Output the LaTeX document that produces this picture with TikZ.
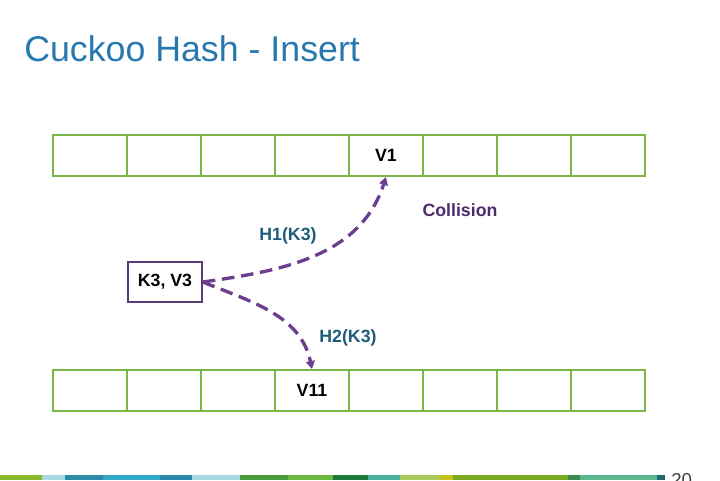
\documentclass[tikz,border=0pt]{standalone}
\usepackage{fontspec}
\setmainfont{Liberation Sans}
\usepackage{xcolor}
\usetikzlibrary{arrows.meta,positioning}

\definecolor{titleblue}{HTML}{2878B0}
\definecolor{slotgreen}{HTML}{7AB648}
\definecolor{probepurple}{HTML}{6B3E8E}
\definecolor{keypurple}{HTML}{5C3B7A}
\definecolor{hashblue}{HTML}{1F5C7A}
\definecolor{collpurple}{HTML}{4E2A6E}

\begin{document}
\begin{tikzpicture}[x=0.75pt, y=-0.75pt,
  cell/.style={draw=slotgreen, line width=1.5pt, minimum width=55.5pt,
    minimum height=30.75pt, inner sep=0pt},
  valtext/.style={font=\bfseries\fontsize{13.3}{16}\selectfont},
  keybox/.style={draw=keypurple, line width=1.1pt, minimum width=55.5pt,
    minimum height=30pt, inner sep=0pt, font=\bfseries\fontsize{13.3}{16}\selectfont},
  hashlabel/.style={text=hashblue, font=\bfseries\fontsize{13.3}{16}\selectfont},
  probe/.style={-{Triangle[length=6pt,width=6.5pt]}, draw=probepurple,
    line width=2.5pt, dash pattern=on 9.5pt off 5pt}
]
\useasboundingbox (0,0) rectangle (720,480);

\node[anchor=base west, text=titleblue, inner sep=0pt,
  font=\fontsize{26.8}{32}\selectfont] (title) at (24,61) {Cuckoo Hash - Insert};

% two tables of eight slots
\foreach \i in {1,...,8} {
  \node[cell] (top\i) at ({16+74*\i},155.5) {};
  \node[cell] (bot\i) at ({16+74*\i},390.5) {};
}
\node[valtext] (v1) at (top5.center) {V1};
\node[valtext] (v11) at (bot4.center) {V11};

\node[keybox] (key) at (165,282) {K3, V3};

\node[hashlabel] (h1) at (288,236) {H1(K3)};
\node[hashlabel] (h2) at (348,338) {H2(K3)};
\node[text=collpurple, font=\bfseries\fontsize{13.3}{16}\selectfont] (coll) at (460,210) {Collision};

\draw[probe] (key.east) to[out=8, in=-108] (top5.south);
\draw[probe] (key.east) to[out=-22, in=102] (bot4.north);

% colour strip at the foot
\foreach \a/\b/\c in {0/42/8AB82A, 42/65/A8D8E0, 65/103/2A8CA8, 103/160/34A8C8,
  160/192/2A88A8, 192/240/A8D8E0, 240/288/4A9A3A, 288/333/6AB840,
  333/368/1E7A3A, 368/400/48B0A0, 400/440/A8C85A, 440/453/C8C020,
  453/568/7AA820, 568/580/3A8A50, 580/657/5AB890, 657/665/1A6A70} {
  \definecolor{stripcol}{HTML}{\c}
  \fill[stripcol] (\a,475) rectangle (\b,480);
}
\node[anchor=north west, inner sep=0pt, text=black!75,
  font=\fontsize{14}{16}\selectfont] (page) at (671,473) {20};
\end{tikzpicture}
\end{document}
